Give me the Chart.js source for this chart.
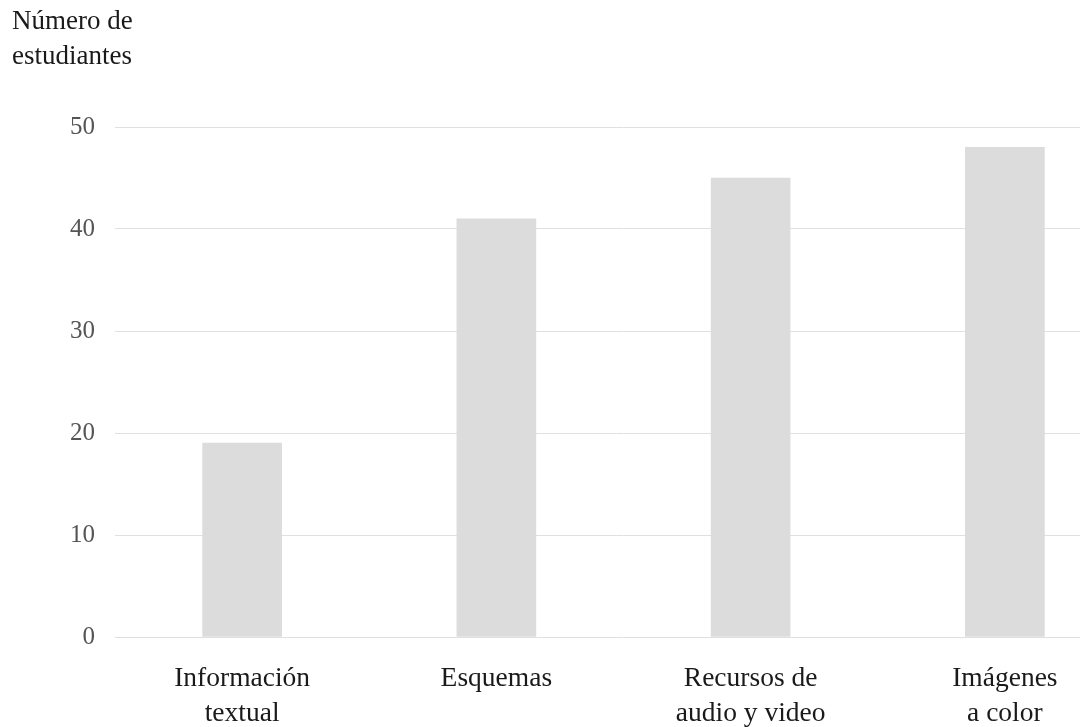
<!DOCTYPE html>
<html lang="es">
<head>
<meta charset="utf-8">
<title>Número de estudiantes por tipo de recurso</title>
<script src="https://cdn.jsdelivr.net/npm/chart.js@4.4.1/dist/chart.umd.min.js"></script>
<style>
  html, body { margin: 0; padding: 0; background: #ffffff; overflow: hidden; }
  #wrap { width: 1080px; height: 727px; overflow: hidden; position: relative; }
  #box { width: 1138px; height: 727px; position: absolute; left: 0; top: 0; }
</style>
</head>
<body>
<div id="wrap"><div id="box"><canvas id="chart"></canvas></div></div>
<script>
// Recursos preferidos y número de estudiantes que eligen cada uno
const categories = [
  ['Información', 'textual'],
  ['Esquemas'],
  ['Recursos de', 'audio y video'],
  ['Imágenes', 'a color']
];
const students = [19, 41, 45, 48];
const yTicks = [0, 10, 20, 30, 40, 50];
const axisTitle = ['Número de', 'estudiantes'];

const serif = '"Liberation Serif", "Times New Roman", serif';

new Chart(document.getElementById('chart'), {
  type: 'bar',
  data: {
    labels: categories,
    datasets: [{
      data: students,
      backgroundColor: '#dcdcdc',
      borderWidth: 0,
      barThickness: 79
    }]
  },
  options: {
    responsive: true,
    maintainAspectRatio: false,
    animation: false,
    layout: { padding: { left: 12, right: 6, top: 0, bottom: 0 } },
    plugins: {
      legend: { display: false },
      tooltip: { enabled: false },
      title: {
        display: true,
        text: axisTitle,
        align: 'start',
        color: '#1a1a1a',
        font: { family: serif, size: 27, weight: 'normal', lineHeight: 35 / 27 },
        padding: { top: 4, bottom: 53 }
      }
    },
    scales: {
      x: {
        grid: { display: false, drawTicks: false },
        border: { display: false },
        ticks: {
          color: '#1a1a1a',
          padding: 24,
          maxRotation: 0,
          autoSkip: false,
          font: { family: serif, size: 27.5, lineHeight: 35 / 27.5 }
        },
        afterFit: (scale) => { scale.height = 90; }
      },
      y: {
        min: 0,
        max: 50,
        afterBuildTicks: (scale) => { scale.ticks = yTicks.map(v => ({ value: v })); },
        grid: { color: '#e0e0e0', lineWidth: 1, drawTicks: false },
        border: { display: false },
        ticks: {
          color: '#555555',
          padding: 20,
          font: { family: serif, size: 25 }
        },
        afterFit: (scale) => { scale.width = 103; }
      }
    }
  }
});
</script>
</body>
</html>
